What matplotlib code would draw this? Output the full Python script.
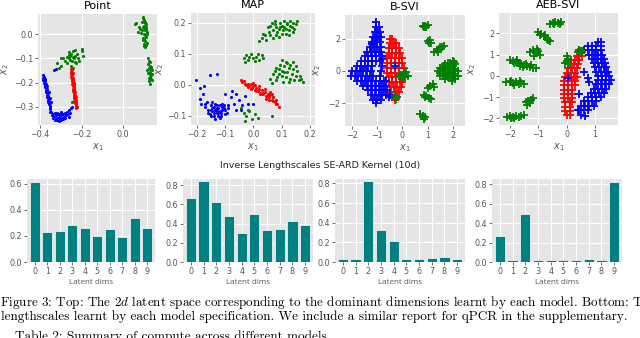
import numpy as np
import matplotlib
matplotlib.use("Agg")
import matplotlib.pyplot as plt

# ---------------- data ----------------
titles = ["Point", "MAP", "B-SVI", "AEB-SVI"]
dims = list(range(10))
dim_labels = [str(d) for d in dims]

point_bars = [0.613, 0.230, 0.240, 0.283, 0.260, 0.200, 0.253, 0.190, 0.337, 0.263]
map_bars = [0.663, 0.838, 0.625, 0.475, 0.304, 0.496, 0.332, 0.342, 0.426, 0.384]
bsvi_bars = [0.028, 0.031, 0.828, 0.330, 0.209, 0.028, 0.028, 0.038, 0.052, 0.028]
aeb_bars = [0.271, 0.024, 0.493, 0.024, 0.024, 0.024, 0.024, 0.030, 0.024, 0.820]

# Point latent space
pt_green = [(0.095, 0.07), (0.10, 0.06), (0.105, 0.05), (0.11, 0.04), (0.10, 0.035), (0.095, 0.03),
            (0.105, 0.025), (0.11, 0.02), (0.115, 0.01), (0.10, 0.0), (0.09, 0.015), (0.105, -0.005),
            (0.11, -0.01), (0.10, -0.02), (0.095, -0.025), (0.105, -0.03), (0.115, -0.035), (0.11, -0.045),
            (0.10, -0.05), (0.105, 0.045), (0.06, 0.04), (0.065, 0.045), (0.075, 0.03), (0.08, 0.02),
            (0.07, 0.01), (0.085, 0.005), (0.09, 0.05), (0.10, 0.055), (0.11, 0.03), (0.105, 0.015),
            (0.095, -0.015), (0.10, -0.04), (0.115, 0.0), (0.108, -0.055), (0.098, 0.065),
            (0.12, -0.10), (0.125, -0.11), (0.13, -0.115), (0.12, -0.125), (0.128, -0.13), (0.135, -0.135),
            (0.125, -0.14), (0.13, -0.145), (0.14, -0.15), (0.132, -0.155), (0.122, -0.16), (0.128, -0.165),
            (0.135, -0.17), (0.14, -0.165), (0.13, -0.175), (0.125, -0.18), (0.133, -0.185), (0.138, -0.19),
            (0.127, -0.195), (0.13, -0.205), (0.135, -0.14), (0.118, -0.15),
            (-0.32, -0.12), (-0.30, -0.13), (-0.29, -0.10), (-0.28, -0.11), (-0.27, -0.12), (-0.26, -0.10),
            (-0.255, -0.09), (-0.25, -0.08), (-0.245, -0.11), (-0.24, -0.07), (-0.235, -0.10), (-0.23, -0.09),
            (-0.225, -0.12), (-0.22, -0.08), (-0.215, -0.10), (-0.21, -0.11), (-0.20, -0.06), (-0.195, -0.09),
            (-0.25, -0.13), (-0.24, -0.14), (-0.23, -0.065), (-0.26, -0.085), (-0.27, -0.095), (-0.30, -0.10),
            (-0.31, -0.14), (-0.235, -0.25), (-0.245, -0.28), (-0.22, -0.30), (-0.20, -0.07), (-0.26, -0.075),
            (-0.23, -0.115), (-0.24, -0.095), (-0.255, -0.105)]
pt_red = [(-0.25, -0.145), (-0.245, -0.15), (-0.252, -0.155), (-0.243, -0.16), (-0.249, -0.165),
          (-0.244, -0.17), (-0.25, -0.175), (-0.241, -0.18), (-0.247, -0.185), (-0.24, -0.19),
          (-0.246, -0.195), (-0.238, -0.20), (-0.244, -0.205), (-0.237, -0.21), (-0.243, -0.215),
          (-0.235, -0.22), (-0.241, -0.225), (-0.234, -0.23), (-0.24, -0.235), (-0.232, -0.24),
          (-0.238, -0.245), (-0.231, -0.25), (-0.237, -0.255), (-0.229, -0.26), (-0.235, -0.265),
          (-0.228, -0.27), (-0.234, -0.275), (-0.226, -0.28), (-0.232, -0.285), (-0.225, -0.29),
          (-0.229, -0.295), (-0.222, -0.30), (-0.226, -0.305), (-0.246, -0.18), (-0.24, -0.21),
          (-0.236, -0.24), (-0.231, -0.27), (-0.249, -0.158), (-0.243, -0.19), (-0.238, -0.228),
          (-0.233, -0.258), (-0.227, -0.288)]
pt_blue = [(-0.388, -0.17), (-0.382, -0.175), (-0.385, -0.18), (-0.378, -0.185), (-0.384, -0.19),
           (-0.376, -0.195), (-0.381, -0.20), (-0.372, -0.205), (-0.378, -0.21), (-0.37, -0.215),
           (-0.375, -0.22), (-0.368, -0.225), (-0.373, -0.23), (-0.365, -0.235), (-0.37, -0.24),
           (-0.362, -0.245), (-0.368, -0.25), (-0.36, -0.255), (-0.365, -0.26), (-0.357, -0.265),
           (-0.362, -0.27), (-0.355, -0.275), (-0.36, -0.28), (-0.352, -0.285), (-0.357, -0.29),
           (-0.35, -0.295), (-0.354, -0.30), (-0.374, -0.19), (-0.366, -0.215), (-0.359, -0.24),
           (-0.354, -0.262), (-0.349, -0.28),
           (-0.35, -0.31), (-0.345, -0.32), (-0.34, -0.33), (-0.335, -0.34), (-0.33, -0.325),
           (-0.325, -0.335), (-0.32, -0.345), (-0.315, -0.33), (-0.31, -0.34), (-0.305, -0.35),
           (-0.30, -0.335), (-0.295, -0.345), (-0.29, -0.33), (-0.285, -0.34), (-0.28, -0.325),
           (-0.275, -0.335), (-0.27, -0.32), (-0.265, -0.33), (-0.26, -0.315), (-0.255, -0.325),
           (-0.25, -0.305), (-0.33, -0.355), (-0.32, -0.355), (-0.31, -0.36), (-0.30, -0.355),
           (-0.34, -0.345), (-0.318, -0.325), (-0.308, -0.328), (-0.298, -0.322), (-0.288, -0.35),
           (-0.278, -0.345), (-0.344, -0.335), (-0.352, -0.322), (-0.26, -0.34), (-0.245, -0.30),
           (-0.335, -0.15), (-0.325, -0.145)]

# MAP latent space
map_green = [(0.05, 0.185), (0.06, 0.19), (0.07, 0.175), (0.08, 0.185), (0.09, 0.18), (0.10, 0.19),
             (0.11, 0.185), (0.12, 0.195), (0.13, 0.19), (0.14, 0.20), (0.15, 0.195), (0.055, 0.17),
             (0.065, 0.20), (0.075, 0.195), (0.085, 0.17), (0.095, 0.20), (0.105, 0.175), (0.115, 0.18),
             (0.125, 0.175), (0.135, 0.185), (0.145, 0.18), (0.06, 0.16), (0.08, 0.16), (0.10, 0.165),
             (0.12, 0.20), (0.14, 0.17), (0.07, 0.15), (0.09, 0.155), (0.11, 0.205), (0.13, 0.205),
             (0.03, 0.15), (0.04, 0.16), (0.02, 0.14), (0.045, 0.145), (0.035, 0.165), (0.155, 0.205),
             (0.115, 0.165), (0.095, 0.185), (0.075, 0.205), (0.125, 0.16),
             (-0.035, 0.085), (-0.025, 0.095), (-0.02, 0.08), (-0.01, 0.10), (0.0, 0.085), (0.01, 0.09),
             (0.02, 0.08), (0.03, 0.095), (-0.03, 0.075), (0.015, 0.10), (0.035, 0.085), (-0.015, 0.088),
             (0.005, 0.078),
             (0.06, 0.02), (0.07, 0.035), (0.08, 0.015), (0.09, 0.05), (0.10, 0.03), (0.11, 0.06),
             (0.12, 0.04), (0.13, 0.02), (0.14, 0.05), (0.15, 0.03), (0.16, 0.015), (0.17, 0.02),
             (0.065, 0.005), (0.075, 0.045), (0.085, 0.025), (0.095, 0.065), (0.105, 0.01), (0.115, 0.075),
             (0.125, 0.055), (0.135, 0.035), (0.145, 0.015), (0.155, 0.045), (0.165, 0.03), (0.10, 0.08),
             (0.11, 0.04), (0.12, 0.07), (0.13, 0.065), (0.09, 0.035), (0.14, 0.075), (0.15, 0.06),
             (0.175, 0.01), (0.10, 0.045), (0.125, 0.01), (0.08, 0.055), (0.115, 0.025),
             (-0.045, -0.075), (-0.035, -0.09), (-0.025, -0.10), (-0.015, -0.085), (-0.005, -0.11),
             (0.005, -0.095), (0.015, -0.105), (-0.03, -0.115), (-0.02, -0.08), (0.065, -0.10),
             (0.07, -0.04), (0.055, -0.03)]
map_red = [(-0.045, 0.015), (-0.04, 0.008), (-0.035, 0.012), (-0.03, 0.004), (-0.025, 0.0), (-0.02, 0.003),
           (-0.015, -0.005), (-0.01, 0.002), (-0.005, -0.01), (0.0, -0.004), (0.005, -0.015), (0.01, -0.01),
           (0.015, -0.02), (0.02, -0.012), (0.025, -0.025), (0.03, -0.018), (0.035, -0.03), (0.04, -0.022),
           (0.045, -0.035), (0.05, -0.028), (0.055, -0.04), (0.06, -0.032), (0.065, -0.048), (0.07, -0.04),
           (0.075, -0.055), (0.08, -0.05), (0.085, -0.06), (0.09, -0.07), (-0.02, -0.008), (-0.01, -0.012),
           (0.0, 0.005), (0.01, -0.02), (0.02, -0.005), (0.03, -0.03), (0.04, -0.012), (0.05, -0.04),
           (0.06, -0.022), (0.07, -0.052), (0.08, -0.062), (0.005, -0.002), (0.025, -0.03), (0.045, -0.045),
           (0.065, -0.03), (0.035, -0.025), (0.055, -0.05)]
map_blue = [(-0.17, -0.07), (-0.16, -0.08), (-0.15, -0.065), (-0.14, -0.09), (-0.13, -0.075), (-0.12, -0.085),
            (-0.11, -0.07), (-0.10, -0.08), (-0.09, -0.075), (-0.165, -0.055), (-0.155, -0.095), (-0.145, -0.075),
            (-0.135, -0.06), (-0.125, -0.10), (-0.115, -0.09), (-0.105, -0.065), (-0.095, -0.09), (-0.16, -0.09),
            (-0.15, -0.08), (-0.14, -0.10), (-0.13, -0.09), (-0.12, -0.065), (-0.11, -0.08), (-0.10, -0.095),
            (-0.145, -0.055), (-0.135, -0.11), (-0.125, -0.075), (-0.115, -0.10), (-0.14, -0.07), (-0.13, -0.085),
            (-0.12, -0.105), (-0.15, -0.10), (-0.11, -0.06), (-0.17, -0.06), (-0.09, -0.065), (-0.13, -0.065),
            (-0.125, -0.09), (-0.135, -0.08), (-0.145, -0.085), (-0.105, -0.075),
            (-0.205, 0.015), (-0.19, -0.01), (-0.18, -0.03), (-0.175, -0.005), (-0.155, 0.032), (-0.13, 0.035),
            (-0.19, -0.045), (-0.08, -0.04), (-0.07, -0.06), (-0.06, -0.03), (-0.05, -0.05), (-0.04, -0.065),
            (-0.03, -0.035), (-0.02, -0.06), (-0.06, -0.08), (-0.075, -0.02), (-0.045, -0.08), (0.0, -0.06),
            (-0.10, -0.03), (-0.185, -0.06)]

# B-SVI latent space
bsvi_blue = [(-1.05, 3.0), (-1.05, 2.7), (-0.95, 2.7), (-1.1, 2.4), (-1.0, 2.4), (-0.9, 2.4),
             (-1.15, 2.1), (-1.05, 2.1), (-0.95, 2.1), (-0.85, 2.1), (-1.2, 1.8), (-1.1, 1.8), (-1.0, 1.8),
             (-0.9, 1.8), (-1.3, 1.5), (-1.15, 1.5), (-1.0, 1.5), (-0.85, 1.5), (-1.4, 1.2), (-1.25, 1.2),
             (-1.1, 1.2), (-0.95, 1.2), (-0.85, 1.2), (-1.5, 0.9), (-1.35, 0.9), (-1.2, 0.9), (-1.05, 0.9),
             (-0.9, 0.9), (-0.8, 0.9), (-1.65, 0.6), (-1.5, 0.6), (-1.35, 0.6), (-1.2, 0.6), (-1.05, 0.6),
             (-0.9, 0.6), (-1.8, 0.3), (-1.65, 0.3), (-1.5, 0.3), (-1.35, 0.3), (-1.2, 0.3), (-0.8, 0.3),
             (-2.0, 0.0), (-1.85, 0.0), (-1.7, 0.0), (-1.55, 0.0), (-1.4, 0.0), (-1.25, 0.0), (-0.85, 0.0),
             (-2.05, -0.3), (-1.9, -0.3), (-1.75, -0.3), (-1.6, -0.3), (-1.45, -0.3), (-1.3, -0.3),
             (-1.15, -0.3), (-0.9, -0.3), (-1.8, -0.6), (-1.65, -0.6), (-1.5, -0.6), (-1.35, -0.6),
             (-1.2, -0.6), (-1.05, -0.6), (-0.9, -0.6), (-0.75, -0.6), (-1.55, -0.9), (-1.4, -0.9),
             (-1.25, -0.9), (-1.1, -0.9), (-0.95, -0.9), (-0.8, -0.9), (-0.65, -0.9), (-1.35, -1.2),
             (-1.2, -1.2), (-1.05, -1.2), (-0.9, -1.2), (-0.75, -1.2), (-0.6, -1.2), (-1.25, -1.5),
             (-1.1, -1.5), (-0.95, -1.5), (-0.8, -1.5), (-0.65, -1.5), (-0.5, -1.5), (-1.15, -1.8),
             (-1.0, -1.8), (-0.85, -1.8), (-1.05, -2.0), (-0.8, 0.75), (-0.3, 0.3), (-1.2, 1.65),
             (-0.55, -1.6), (-0.65, -0.6)]
bsvi_red = [(-0.5, 2.0), (-0.4, 2.0), (-0.5, 1.7), (-0.35, 1.7), (-0.25, 1.7), (-0.55, 1.4), (-0.4, 1.4),
            (-0.25, 1.4), (-0.15, 1.4), (-0.55, 1.1), (-0.4, 1.1), (-0.25, 1.1), (-0.1, 1.1), (-0.6, 0.8),
            (-0.45, 0.8), (-0.3, 0.8), (-0.15, 0.8), (0.0, 0.8), (-0.6, 0.5), (-0.45, 0.5), (-0.3, 0.5),
            (-0.15, 0.5), (0.0, 0.5), (-0.6, 0.2), (-0.45, 0.2), (-0.3, 0.2), (-0.15, 0.2), (0.05, 0.2),
            (-0.6, -0.1), (-0.45, -0.1), (-0.3, -0.1), (-0.15, -0.1), (0.05, -0.1), (-0.55, -0.4),
            (-0.4, -0.4), (-0.25, -0.4), (-0.1, -0.4), (0.05, -0.4), (-0.55, -0.7), (-0.4, -0.7),
            (-0.25, -0.7), (-0.1, -0.7), (0.0, -0.7), (-0.5, -1.0), (-0.35, -1.0), (-0.2, -1.0),
            (-0.05, -1.0), (-0.45, -1.3), (-0.3, -1.3), (-0.15, -1.3), (-0.4, -1.6), (-0.25, -1.6),
            (-0.3, -1.8)]
bsvi_green = [(0.8, 2.75), (0.9, 2.8), (1.0, 2.85), (0.85, 2.7), (0.95, 2.7),
              (1.0, 1.85), (1.1, 1.9), (1.05, 1.7), (1.15, 1.75),
              (1.25, 1.2), (1.35, 1.3), (1.45, 1.35), (1.55, 1.45), (1.65, 1.55), (1.4, 1.2), (1.5, 1.5),
              (1.5, 0.2), (1.6, 0.3), (1.7, 0.4), (1.8, 0.5), (1.9, 0.5), (2.0, 0.6), (2.1, 0.4),
              (1.4, 0.0), (1.5, -0.1), (1.6, 0.0), (1.7, 0.1), (1.8, 0.2), (1.9, 0.2), (2.0, 0.3),
              (2.1, 0.1), (2.2, 0.0), (1.5, -0.3), (1.6, -0.3), (1.7, -0.2), (1.8, -0.1), (1.9, -0.1),
              (2.0, 0.0), (2.1, -0.2), (2.2, -0.3), (1.7, -0.5), (1.8, -0.4), (1.9, -0.4), (2.0, -0.3),
              (2.1, -0.5), (1.95, -0.6), (2.05, 0.55),
              (1.0, -1.05), (1.1, -0.95), (1.2, -0.8), (1.25, -1.0),
              (0.85, -1.45), (0.95, -1.55), (1.05, -1.65), (1.15, -1.75), (0.9, -1.6),
              (0.7, -2.65), (0.8, -2.75), (0.9, -2.85), (0.85, -2.95),
              (-0.15, -0.3), (-0.05, -0.25), (0.05, -0.15), (0.15, -0.05), (0.2, -0.3), (0.1, -0.4),
              (0.0, -0.35), (-0.3, -1.55), (-0.25, -1.7), (-0.2, -1.6)]

# AEB-SVI latent space
aeb_red = [(0.45, 1.15), (0.55, 1.15), (0.35, 0.95), (0.45, 0.95), (0.55, 0.95), (0.15, 0.75), (0.3, 0.75),
           (0.45, 0.75), (0.1, 0.55), (0.25, 0.55), (0.4, 0.55), (0.05, 0.35), (0.2, 0.35), (0.35, 0.35),
           (0.0, 0.15), (0.15, 0.15), (0.3, 0.15), (-0.05, -0.05), (0.1, -0.05), (0.25, -0.05), (0.35, -0.05),
           (-0.1, -0.25), (0.05, -0.25), (0.2, -0.25), (0.3, -0.25), (-0.1, -0.45), (0.05, -0.45),
           (0.2, -0.45), (0.3, -0.45), (-0.1, -0.65), (0.05, -0.65), (0.2, -0.65), (-0.1, -0.85),
           (0.05, -0.85), (0.2, -0.85), (-0.1, -1.05), (0.05, -1.05), (0.2, -1.05), (-0.05, -1.25),
           (0.1, -1.25), (0.2, -1.25), (-0.05, -1.45), (0.1, -1.45), (-0.05, -1.65), (0.1, -1.65),
           (0.0, -1.85), (0.1, -1.85)]
aeb_blue = [(1.1, 1.6), (1.2, 1.6), (0.75, 1.4), (0.9, 1.4), (1.05, 1.4), (1.2, 1.4), (0.6, 1.2), (0.75, 1.2),
            (0.9, 1.2), (1.05, 1.2), (1.2, 1.2), (0.8, 1.0), (0.95, 1.0), (1.1, 1.0), (1.25, 1.0), (0.9, 0.8),
            (1.05, 0.8), (1.2, 0.8), (1.3, 0.8), (0.95, 0.6), (1.1, 0.6), (1.25, 0.6), (1.35, 0.6), (1.0, 0.4),
            (1.15, 0.4), (1.3, 0.4), (1.4, 0.4), (1.05, 0.2), (1.2, 0.2), (1.35, 0.2), (1.45, 0.2), (1.1, 0.0),
            (1.25, 0.0), (1.4, 0.0), (1.5, 0.0), (1.1, -0.2), (1.25, -0.2), (1.4, -0.2), (1.55, -0.2),
            (1.05, -0.4), (1.2, -0.4), (1.35, -0.4), (1.5, -0.4), (0.95, -0.6), (1.1, -0.6), (1.25, -0.6),
            (1.4, -0.6), (0.85, -0.8), (1.0, -0.8), (1.15, -0.8), (1.3, -0.8), (0.75, -1.0), (0.9, -1.0),
            (1.05, -1.0), (1.2, -1.0), (0.6, -1.2), (0.75, -1.2), (0.9, -1.2), (1.05, -1.2), (0.5, -1.4),
            (0.65, -1.4), (0.8, -1.4), (0.95, -1.4), (0.45, -1.6), (0.6, -1.6), (0.75, -1.6),
            (0.04, -0.12), (0.62, 0.2), (0.74, -0.12), (0.8, -0.27), (0.5, -1.85), (0.65, -1.9),
            (0.39, -1.6), (0.45, -0.85)]
aeb_green = [(-0.6, 2.45), (-0.5, 2.5), (-0.4, 2.55), (-0.3, 2.5), (-0.2, 2.55), (-0.25, 2.45), (-0.45, 2.45),
             (-1.0, 2.05), (-0.9, 1.95), (-0.8, 1.85), (-0.7, 1.75), (-0.6, 1.65), (-0.95, 1.9), (-0.75, 1.9),
             (-0.65, 1.7),
             (-1.3, 1.1), (-1.2, 1.2), (-1.1, 1.05), (-1.0, 1.15), (-0.95, 1.0), (-1.15, 0.95), (-1.05, 1.25),
             (-2.0, 0.75), (-1.9, 0.7), (-1.8, 0.65), (-1.7, 0.6), (-1.6, 0.55), (-1.5, 0.5), (-1.4, 0.45),
             (-1.3, 0.4), (-1.2, 0.35), (-1.1, 0.35), (-1.85, 0.6), (-1.65, 0.45), (-1.45, 0.55), (-1.75, 0.75),
             (-1.55, 0.4), (-1.25, 0.5),
             (-2.15, -0.3), (-2.0, -0.3), (-1.9, -0.35), (-1.8, -0.3), (-1.7, -0.4), (-1.6, -0.35),
             (-1.5, -0.4), (-1.85, -0.45), (-1.95, -0.25), (-1.65, -0.25),
             (-1.45, -1.25), (-1.35, -1.2), (-1.25, -1.15), (-1.3, -1.3), (-1.2, -1.05), (-1.4, -1.35),
             (-2.1, -1.95), (-2.0, -1.9), (-1.9, -1.95), (-1.8, -1.9), (-1.7, -1.95), (-1.6, -1.9),
             (-1.5, -1.85), (-1.85, -2.0), (-1.95, -2.0),
             (0.0, 0.95), (0.05, 0.8), (-0.05, 0.6), (0.05, 0.55), (0.0, 0.7),
             (0.4, 1.1), (0.5, 1.15), (0.45, 1.2), (0.55, 1.1)]

caption1 = "Figure 3: Top: The $2d$ latent space corresponding to the dominant dimensions learnt by each model. Bottom: Th"
caption2 = "lengthscales learnt by each model specification. We include a similar report for qPCR in the supplementary."
caption3 = "Table 2: Summary of compute across different models"
suptitle = "Inverse Lengthscales SE-ARD Kernel (10d)"

# ---------------- style ----------------
plt.style.use("ggplot")
plt.rcParams["font.family"] = ["DejaVu Sans"]
plt.rcParams["mathtext.fontset"] = "dejavusans"

W, H = 640, 338
fig = plt.figure(figsize=(W / 100, H / 100), dpi=100)
fig.patch.set_facecolor("white")


def rect(l, t, r, b):
    return [l / W, 1 - b / H, (r - l) / W, (b - t) / H]


GRAY = "#555555"
TICK = 5.8


def style_axes(ax):
    ax.tick_params(axis="both", labelsize=TICK, colors=GRAY, length=2, width=0.6, pad=1.5)
    ax.grid(True, color="white", linewidth=0.8)
    ax.set_axisbelow(True)
    for s in ax.spines.values():
        s.set_visible(False)


top_rects = [rect(38, 14, 157, 125), rect(191, 13, 315, 125), rect(345, 15, 465, 126), rect(499, 13, 618, 125)]
top_xlims = [(-0.41, 0.164), (-0.221, 0.218), (-2.28, 2.48), (-2.39, 1.81)]
top_ylims = [(-0.375, 0.083), (-0.129, 0.231), (-3.39, 3.45), (-2.31, 2.95)]
top_xticks = [[-0.4, -0.2, 0.0], [-0.2, -0.1, 0.0, 0.1, 0.2], [-2, -1, 0, 1, 2], [-2, -1, 0, 1]]
top_yticks = [[-0.3, -0.2, -0.1, 0.0], [-0.1, 0.0, 0.1, 0.2], [-2, 0, 2], [-2, -1, 0, 1, 2]]
ylab_x = [-0.277, -0.25, -0.233, -0.227]

dot_sets = [
    [(pt_green, "green"), (pt_red, "red"), (pt_blue, "blue")],
    [(map_green, "green"), (map_red, "red"), (map_blue, "blue")],
    [(bsvi_red, "red"), (bsvi_blue, "blue"), (bsvi_green, "green")],
    [(aeb_red, "red"), (aeb_blue, "blue"), (aeb_green, "green")],
]

for i in range(4):
    ax = fig.add_axes(top_rects[i])
    style_axes(ax)
    for pts, col in dot_sets[i]:
        arr = np.array(pts)
        if i < 2:
            ax.scatter(arr[:, 0], arr[:, 1], s=5, c=col, marker="o", linewidths=0, zorder=3)
        else:
            ax.scatter(arr[:, 0], arr[:, 1], s=32, c=col, marker="+", linewidths=1.3, zorder=3)
    ax.set_xlim(*top_xlims[i])
    ax.set_ylim(*top_ylims[i])
    ax.set_xticks(top_xticks[i])
    ax.set_yticks(top_yticks[i])
    ax.set_title(titles[i], fontsize=8, pad=3.5, color="black")
    ax.set_xlabel("$x_1$", fontsize=7, color=GRAY)
    ax.set_ylabel("$x_2$", fontsize=7, color=GRAY)
    ax.xaxis.set_label_coords(0.5, -0.2)
    ax.xaxis.label.set_va("center")
    ax.yaxis.set_label_coords(ylab_x[i], 0.5)
    ax.yaxis.label.set_va("center")

bot_rects = [rect(27, 179, 155, 262), rect(183, 179, 313, 262), rect(335, 179, 465, 262), rect(492, 179, 622, 262)]
bars = [point_bars, map_bars, bsvi_bars, aeb_bars]
bar_ytop = [0.637, 0.863, 0.845, 0.852]
bar_yticks = [[0.0, 0.2, 0.4, 0.6], [0.0, 0.2, 0.4, 0.6, 0.8], [0.0, 0.2, 0.4, 0.6, 0.8], [0.0, 0.2, 0.4, 0.6, 0.8]]

for i in range(4):
    ax = fig.add_axes(bot_rects[i])
    style_axes(ax)
    ax.bar(dims, bars[i], width=0.8, color="#008080", edgecolor="#EEEEEE", linewidth=0.6, zorder=3)
    ax.set_xlim(-0.62, 9.62)
    ax.set_ylim(0, bar_ytop[i])
    ax.set_xticks(dims)
    ax.set_xticklabels(dim_labels)
    ax.set_yticks(bar_yticks[i])
    ax.set_xlabel("Latent dims", fontsize=5.8, color=GRAY, family=["Open Sans", "DejaVu Sans"])
    ax.xaxis.set_label_coords(0.5, -0.242)
    ax.xaxis.label.set_va("center")

fig.text(0.5, 1 - 165.7 / H, suptitle, ha="center", va="center", fontsize=6.8, color="#222222")

cap_kw = dict(family="cmr10", math_fontfamily="cm", color="black", va="baseline", ha="left")
fig.text(0.5 / W, 1 - 306 / H, caption1, fontsize=9.45, **cap_kw)
fig.text(1 / W, 1 - 320 / H, caption2, fontsize=9.55, **cap_kw)
fig.text(15 / W, 1 - 340 / H, caption3, fontsize=9.55, **cap_kw)

fig.savefig("out.png", dpi=100, facecolor="white")
